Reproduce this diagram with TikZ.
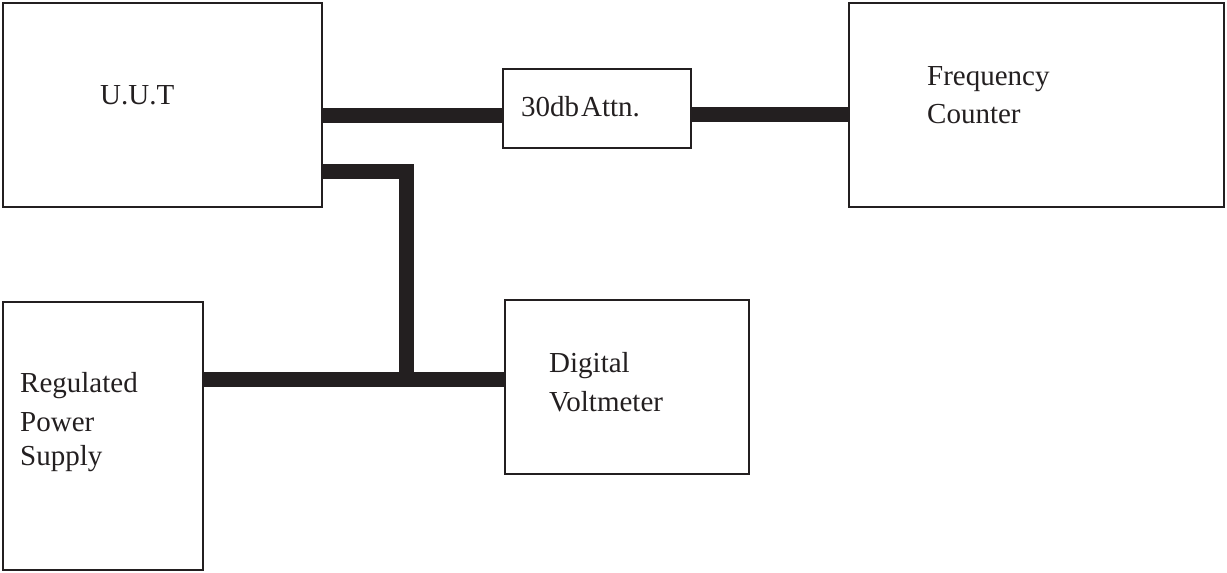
\documentclass[tikz,border=0pt]{standalone}
\usepackage{fontspec}
\setmainfont{Liberation Serif}
\begin{document}
\begin{tikzpicture}[x=1pt,y=-1pt,
  box/.style={draw=inkc, line width=2.5pt, rectangle, inner sep=0pt, outer sep=0pt, anchor=north west},
  wire/.style={draw=inkc, line width=15pt, line cap=butt, line join=miter},
  lbl/.style={anchor=base west, inner sep=0pt, text=inkc, font=\fontsize{29}{37}\selectfont}]
\definecolor{inkc}{HTML}{231F20}
\useasboundingbox (0,0) rectangle (1227,573);
% boxes
\node[box, minimum width=319pt, minimum height=204pt] (uut) at (3,3) {};
\node[box, minimum width=188pt, minimum height=79pt] (attn) at (503,69) {};
\node[box, minimum width=375pt, minimum height=204pt] (fc) at (849,3) {};
\node[box, minimum width=200pt, minimum height=268pt] (ps) at (3,302) {};
\node[box, minimum width=244pt, minimum height=174pt] (dvm) at (505,300) {};
% labels
\node[lbl] (uutt) at (100,104) {U.U.T};
\node[lbl] (attnt) at (521,116) {30db\kern2pt Attn.};
\node[lbl] (fct1) at (927,85) {Frequency};
\node[lbl] (fct2) at (927,123) {Counter};
\node[lbl] (pst1) at (20,392) {Regulated};
\node[lbl] (pst2) at (20,431) {Power};
\node[lbl] (pst3) at (20,465) {Supply};
\node[lbl] (dvmt1) at (549,372) {Digital};
\node[lbl] (dvmt2) at (549,411) {Voltmeter};
% wires
\coordinate (a1) at (322,115.5);
\draw[wire] (a1) -- (a1 -| attn.west);
\coordinate (a2) at (691,114.5);
\draw[wire] (a2) -- (a2 -| fc.west);
\coordinate (b1) at (322,171);
\coordinate (j) at (406,379);
\draw[wire] (b1) -- (b1 -| j) -- (j);
\coordinate (c1) at (203,379);
\draw[wire] (c1) -- (c1 -| dvm.west);
\end{tikzpicture}
\end{document}
